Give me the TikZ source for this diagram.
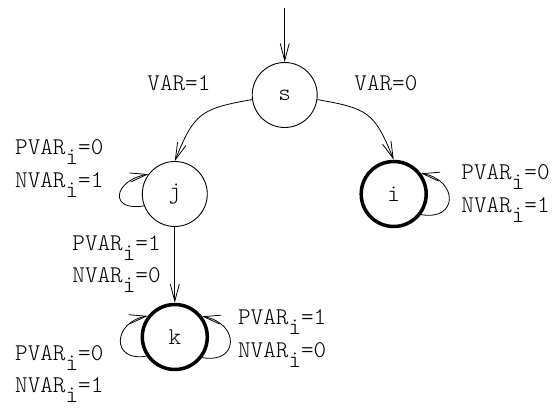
\documentclass[tikz,border=0pt]{standalone}
\usepackage{fontspec}
\setmonofont{Latin Modern Mono Light}
\usetikzlibrary{automata,arrows.meta}
\newcommand{\isub}[1]{\raisebox{-10pt}{#1}}

\begin{document}
\begin{tikzpicture}[x=1pt,y=1pt,->,>={Straight Barb[length=17pt,width=9pt]},line width=0.8pt,
	every node/.style={font=\ttfamily\fontsize{24}{28}\selectfont},
	every state/.style={draw,circle,minimum size=65pt,inner sep=0pt,line width=0.9pt},
	accepting/.style={line width=3.5pt},
	lbl/.style={anchor=base west,inner sep=0pt}]

\useasboundingbox (0,0) rectangle (552,409);

\coordinate (start) at (284.7,401);
\node[state](s) at (284.7,314){s};
\node[state](j) at (174.8,215){j};
\node[state,accepting](i) at (393.7,215){i};
\node[state,accepting](k) at (174.8,72){k};

\draw (start) -- (s);
\path(s.188)edge[out=190,in=68,looseness=1.35](j.north)
	(s.-8)edge[out=-10,in=112,looseness=1.35](i.north)
	(j)edge(k)
	(j.201)edge[out=190,in=190,distance=36pt](j.143)
	(i.-37)edge[out=-10,in=-10,distance=38pt](i.37)
	(k.214)edge[out=190,in=190,distance=36pt](k.142)
	(k.-37)edge[out=-10,in=-10,distance=38pt](k.37);

% edge labels
\node[lbl](v1) at (147,318.3){VAR=1};
\node[lbl](v0) at (354,318.3){VAR=0};
\node[lbl](pj) at (14.8,254){PVAR\isub{i}=0};
\node[lbl](nj) at (14.8,221){NVAR\isub{i}=1};
\node[lbl](pi) at (461,229){PVAR\isub{i}=0};
\node[lbl](ni) at (461,196){NVAR\isub{i}=1};
\node[lbl](pjk) at (72,158){PVAR\isub{i}=1};
\node[lbl](njk) at (72,126){NVAR\isub{i}=0};
\node[lbl](pkr) at (237.7,84){PVAR\isub{i}=1};
\node[lbl](nkr) at (237.7,51){NVAR\isub{i}=0};
\node[lbl](pkl) at (14.8,48){PVAR\isub{i}=0};
\node[lbl](nkl) at (14.8,16){NVAR\isub{i}=1};

\end{tikzpicture}
\end{document}
